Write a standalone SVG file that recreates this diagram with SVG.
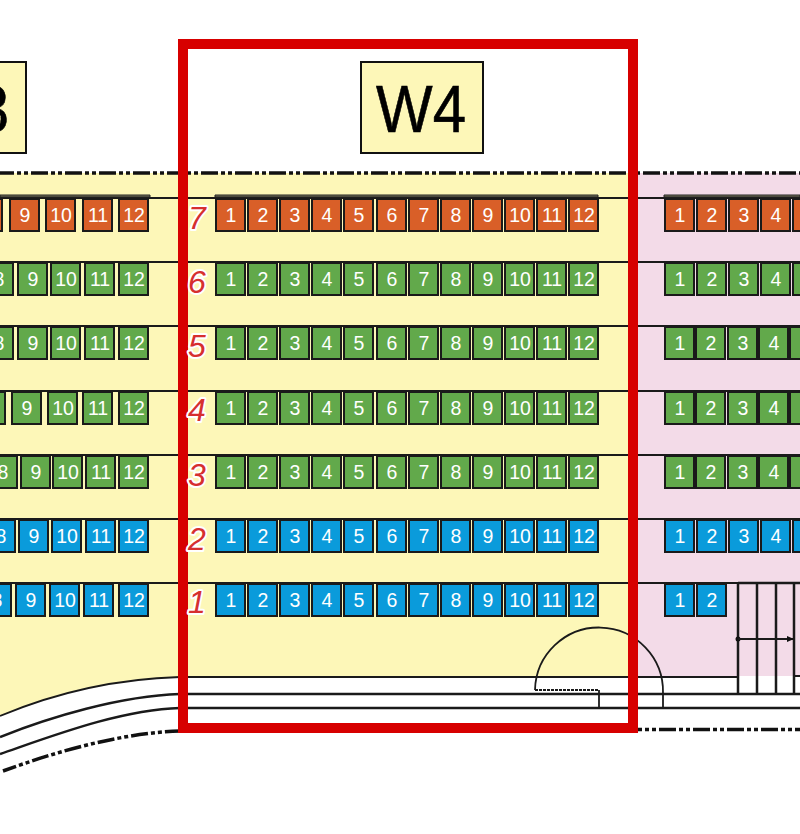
<svg xmlns="http://www.w3.org/2000/svg" width="800" height="834" viewBox="0 0 800 834">
<style>
.c rect{width:29px;height:32px;stroke:#1a1a1a;stroke-width:2}
.c text{font:19.500px "Liberation Sans",Arial,sans-serif;fill:#fff;text-anchor:middle}
.o rect{fill:#d95f28}.g rect{fill:#62a94b}.b rect{fill:#0a9bdb}
.l{fill:none;stroke:#1a1a1a;stroke-width:1.800}
.t{stroke-width:2.500}
.d{fill:none;stroke:#111;stroke-width:3.500;stroke-dasharray:17 3 4 3 4 3;stroke-dashoffset:3}
.e{stroke-dashoffset:13}
.n{font:italic 32px "Liberation Sans",Arial,sans-serif;fill:#d62f2f;stroke:#fff;stroke-width:4;paint-order:stroke;stroke-linejoin:round;text-anchor:middle}
.h rect{fill:#fdf7b8;stroke:#111;stroke-width:2}
.h text{font:66px "Liberation Sans",Arial,sans-serif;fill:#000;stroke:#000;stroke-width:.6;text-anchor:middle}
.bar{fill:#77745a;stroke:#222;stroke-width:1}
</style>
<defs><marker id="ah" markerWidth="8" markerHeight="8" refX="6" refY="3" orient="auto" markerUnits="userSpaceOnUse"><path d="M0 0L7 3L0 6z" fill="#111"/></marker></defs>
<rect width="800" height="834" fill="#fff"/>
<path d="M0 173H635V677H180C110 679 50 695 0 716Z" fill="#fdf7b8"/>
<rect x="633" y="173" width="167" height="503" fill="#f3dbe8"/>
<g id="connectors">
<path class="d" d="M0 173H800"/>
<path class="l" d="M0 198H800M0 262H800M0 326H800M0 391H800M0 455H800M0 519H800M0 583H738"/>
<path class="bar" d="M0 195H150V197H0ZM215 195H598V197H215ZM664 195H800V197H664Z"/>
<path class="l" d="M0 716C50 695 110 679 180 677H738M795 676H800"/>
<path class="l t" d="M0 737C50 717 120 696 180 694H800"/>
<path class="l t" d="M0 754C55 735 120 710 180 708H800"/>
<path class="d" d="M3 771C55 752 120 733 180 731H640"/>
<path class="d e" d="M638 729.500H800"/>
<path class="l" d="M535 690A64 64 0 0 1 663 693V708"/>
<path class="l" stroke-dasharray="3 1" d="M535 690H599"/>
<path class="l" d="M599 690V708"/>
<path class="l t" d="M738 583V693M757 583V693M776 583V693M794 583V693M738 583H800"/>
<circle cx="738" cy="639" r="2.500" fill="#111"/>
<path class="l" stroke-width="1.500" marker-end="url(#ah)" d="M738 639H793"/>
</g>
<g id="w3-label" class="h"><rect x="-100" y="62" width="126" height="91"/><text x="-36" y="132" textLength="90" lengthAdjust="spacingAndGlyphs">W3</text></g>
<g id="w4-label" class="h"><rect x="361" y="62" width="122" height="91"/><text x="421" y="132" textLength="90" lengthAdjust="spacingAndGlyphs">W4</text></g>
<g id="w3-7">
<g class="c o" transform="translate(-27 199)"><rect/></g>
<g class="c o" transform="translate(10 199)"><rect/><text x="15" y="23">9</text></g>
<g class="c o" transform="translate(46 199)"><rect/><text x="15" y="23">10</text></g>
<g class="c o" transform="translate(83 199)"><rect/><text x="15" y="23">11</text></g>
<g class="c o" transform="translate(119 199)"><rect/><text x="15" y="23">12</text></g>
</g>
<g id="w3-6">
<g class="c g" transform="translate(-16 263)"><rect/><text x="15" y="23">8</text></g>
<g class="c g" transform="translate(18 263)"><rect/><text x="15" y="23">9</text></g>
<g class="c g" transform="translate(51 263)"><rect/><text x="15" y="23">10</text></g>
<g class="c g" transform="translate(85 263)"><rect/><text x="15" y="23">11</text></g>
<g class="c g" transform="translate(119 263)"><rect/><text x="15" y="23">12</text></g>
</g>
<g id="w3-5">
<g class="c g" transform="translate(-16 327)"><rect/><text x="15" y="23">8</text></g>
<g class="c g" transform="translate(18 327)"><rect/><text x="15" y="23">9</text></g>
<g class="c g" transform="translate(51 327)"><rect/><text x="15" y="23">10</text></g>
<g class="c g" transform="translate(85 327)"><rect/><text x="15" y="23">11</text></g>
<g class="c g" transform="translate(119 327)"><rect/><text x="15" y="23">12</text></g>
</g>
<g id="w3-4">
<g class="c g" transform="translate(-24 392)"><rect/></g>
<g class="c g" transform="translate(12 392)"><rect/><text x="15" y="23">9</text></g>
<g class="c g" transform="translate(48 392)"><rect/><text x="15" y="23">10</text></g>
<g class="c g" transform="translate(83 392)"><rect/><text x="15" y="23">11</text></g>
<g class="c g" transform="translate(119 392)"><rect/><text x="15" y="23">12</text></g>
</g>
<g id="w3-3">
<g class="c g" transform="translate(-12 456)"><rect/><text x="15" y="23">8</text></g>
<g class="c g" transform="translate(21 456)"><rect/><text x="15" y="23">9</text></g>
<g class="c g" transform="translate(53 456)"><rect/><text x="15" y="23">10</text></g>
<g class="c g" transform="translate(86 456)"><rect/><text x="15" y="23">11</text></g>
<g class="c g" transform="translate(119 456)"><rect/><text x="15" y="23">12</text></g>
</g>
<g id="w3-2">
<g class="c b" transform="translate(-14 520)"><rect/><text x="15" y="23">8</text></g>
<g class="c b" transform="translate(19 520)"><rect/><text x="15" y="23">9</text></g>
<g class="c b" transform="translate(52 520)"><rect/><text x="15" y="23">10</text></g>
<g class="c b" transform="translate(86 520)"><rect/><text x="15" y="23">11</text></g>
<g class="c b" transform="translate(119 520)"><rect/><text x="15" y="23">12</text></g>
</g>
<g id="w3-1">
<g class="c b" transform="translate(-18 584)"><rect/><text x="15" y="23">8</text></g>
<g class="c b" transform="translate(16 584)"><rect/><text x="15" y="23">9</text></g>
<g class="c b" transform="translate(50 584)"><rect/><text x="15" y="23">10</text></g>
<g class="c b" transform="translate(84 584)"><rect/><text x="15" y="23">11</text></g>
<g class="c b" transform="translate(119 584)"><rect/><text x="15" y="23">12</text></g>
</g>
<g id="w4-7">
<g class="c o" transform="translate(216 199)"><rect/><text x="15" y="23">1</text></g>
<g class="c o" transform="translate(248 199)"><rect/><text x="15" y="23">2</text></g>
<g class="c o" transform="translate(280 199)"><rect/><text x="15" y="23">3</text></g>
<g class="c o" transform="translate(312 199)"><rect/><text x="15" y="23">4</text></g>
<g class="c o" transform="translate(344 199)"><rect/><text x="15" y="23">5</text></g>
<g class="c o" transform="translate(377 199)"><rect/><text x="15" y="23">6</text></g>
<g class="c o" transform="translate(409 199)"><rect/><text x="15" y="23">7</text></g>
<g class="c o" transform="translate(441 199)"><rect/><text x="15" y="23">8</text></g>
<g class="c o" transform="translate(473 199)"><rect/><text x="15" y="23">9</text></g>
<g class="c o" transform="translate(505 199)"><rect/><text x="15" y="23">10</text></g>
<g class="c o" transform="translate(537 199)"><rect/><text x="15" y="23">11</text></g>
<g class="c o" transform="translate(569 199)"><rect/><text x="15" y="23">12</text></g>
</g>
<g id="w4-6">
<g class="c g" transform="translate(216 263)"><rect/><text x="15" y="23">1</text></g>
<g class="c g" transform="translate(248 263)"><rect/><text x="15" y="23">2</text></g>
<g class="c g" transform="translate(280 263)"><rect/><text x="15" y="23">3</text></g>
<g class="c g" transform="translate(312 263)"><rect/><text x="15" y="23">4</text></g>
<g class="c g" transform="translate(344 263)"><rect/><text x="15" y="23">5</text></g>
<g class="c g" transform="translate(377 263)"><rect/><text x="15" y="23">6</text></g>
<g class="c g" transform="translate(409 263)"><rect/><text x="15" y="23">7</text></g>
<g class="c g" transform="translate(441 263)"><rect/><text x="15" y="23">8</text></g>
<g class="c g" transform="translate(473 263)"><rect/><text x="15" y="23">9</text></g>
<g class="c g" transform="translate(505 263)"><rect/><text x="15" y="23">10</text></g>
<g class="c g" transform="translate(537 263)"><rect/><text x="15" y="23">11</text></g>
<g class="c g" transform="translate(569 263)"><rect/><text x="15" y="23">12</text></g>
</g>
<g id="w4-5">
<g class="c g" transform="translate(216 327)"><rect/><text x="15" y="23">1</text></g>
<g class="c g" transform="translate(248 327)"><rect/><text x="15" y="23">2</text></g>
<g class="c g" transform="translate(280 327)"><rect/><text x="15" y="23">3</text></g>
<g class="c g" transform="translate(312 327)"><rect/><text x="15" y="23">4</text></g>
<g class="c g" transform="translate(344 327)"><rect/><text x="15" y="23">5</text></g>
<g class="c g" transform="translate(377 327)"><rect/><text x="15" y="23">6</text></g>
<g class="c g" transform="translate(409 327)"><rect/><text x="15" y="23">7</text></g>
<g class="c g" transform="translate(441 327)"><rect/><text x="15" y="23">8</text></g>
<g class="c g" transform="translate(473 327)"><rect/><text x="15" y="23">9</text></g>
<g class="c g" transform="translate(505 327)"><rect/><text x="15" y="23">10</text></g>
<g class="c g" transform="translate(537 327)"><rect/><text x="15" y="23">11</text></g>
<g class="c g" transform="translate(569 327)"><rect/><text x="15" y="23">12</text></g>
</g>
<g id="w4-4">
<g class="c g" transform="translate(216 392)"><rect/><text x="15" y="23">1</text></g>
<g class="c g" transform="translate(248 392)"><rect/><text x="15" y="23">2</text></g>
<g class="c g" transform="translate(280 392)"><rect/><text x="15" y="23">3</text></g>
<g class="c g" transform="translate(312 392)"><rect/><text x="15" y="23">4</text></g>
<g class="c g" transform="translate(344 392)"><rect/><text x="15" y="23">5</text></g>
<g class="c g" transform="translate(377 392)"><rect/><text x="15" y="23">6</text></g>
<g class="c g" transform="translate(409 392)"><rect/><text x="15" y="23">7</text></g>
<g class="c g" transform="translate(441 392)"><rect/><text x="15" y="23">8</text></g>
<g class="c g" transform="translate(473 392)"><rect/><text x="15" y="23">9</text></g>
<g class="c g" transform="translate(505 392)"><rect/><text x="15" y="23">10</text></g>
<g class="c g" transform="translate(537 392)"><rect/><text x="15" y="23">11</text></g>
<g class="c g" transform="translate(569 392)"><rect/><text x="15" y="23">12</text></g>
</g>
<g id="w4-3">
<g class="c g" transform="translate(216 456)"><rect/><text x="15" y="23">1</text></g>
<g class="c g" transform="translate(248 456)"><rect/><text x="15" y="23">2</text></g>
<g class="c g" transform="translate(280 456)"><rect/><text x="15" y="23">3</text></g>
<g class="c g" transform="translate(312 456)"><rect/><text x="15" y="23">4</text></g>
<g class="c g" transform="translate(344 456)"><rect/><text x="15" y="23">5</text></g>
<g class="c g" transform="translate(377 456)"><rect/><text x="15" y="23">6</text></g>
<g class="c g" transform="translate(409 456)"><rect/><text x="15" y="23">7</text></g>
<g class="c g" transform="translate(441 456)"><rect/><text x="15" y="23">8</text></g>
<g class="c g" transform="translate(473 456)"><rect/><text x="15" y="23">9</text></g>
<g class="c g" transform="translate(505 456)"><rect/><text x="15" y="23">10</text></g>
<g class="c g" transform="translate(537 456)"><rect/><text x="15" y="23">11</text></g>
<g class="c g" transform="translate(569 456)"><rect/><text x="15" y="23">12</text></g>
</g>
<g id="w4-2">
<g class="c b" transform="translate(216 520)"><rect/><text x="15" y="23">1</text></g>
<g class="c b" transform="translate(248 520)"><rect/><text x="15" y="23">2</text></g>
<g class="c b" transform="translate(280 520)"><rect/><text x="15" y="23">3</text></g>
<g class="c b" transform="translate(312 520)"><rect/><text x="15" y="23">4</text></g>
<g class="c b" transform="translate(344 520)"><rect/><text x="15" y="23">5</text></g>
<g class="c b" transform="translate(377 520)"><rect/><text x="15" y="23">6</text></g>
<g class="c b" transform="translate(409 520)"><rect/><text x="15" y="23">7</text></g>
<g class="c b" transform="translate(441 520)"><rect/><text x="15" y="23">8</text></g>
<g class="c b" transform="translate(473 520)"><rect/><text x="15" y="23">9</text></g>
<g class="c b" transform="translate(505 520)"><rect/><text x="15" y="23">10</text></g>
<g class="c b" transform="translate(537 520)"><rect/><text x="15" y="23">11</text></g>
<g class="c b" transform="translate(569 520)"><rect/><text x="15" y="23">12</text></g>
</g>
<g id="w4-1">
<g class="c b" transform="translate(216 584)"><rect/><text x="15" y="23">1</text></g>
<g class="c b" transform="translate(248 584)"><rect/><text x="15" y="23">2</text></g>
<g class="c b" transform="translate(280 584)"><rect/><text x="15" y="23">3</text></g>
<g class="c b" transform="translate(312 584)"><rect/><text x="15" y="23">4</text></g>
<g class="c b" transform="translate(344 584)"><rect/><text x="15" y="23">5</text></g>
<g class="c b" transform="translate(377 584)"><rect/><text x="15" y="23">6</text></g>
<g class="c b" transform="translate(409 584)"><rect/><text x="15" y="23">7</text></g>
<g class="c b" transform="translate(441 584)"><rect/><text x="15" y="23">8</text></g>
<g class="c b" transform="translate(473 584)"><rect/><text x="15" y="23">9</text></g>
<g class="c b" transform="translate(505 584)"><rect/><text x="15" y="23">10</text></g>
<g class="c b" transform="translate(537 584)"><rect/><text x="15" y="23">11</text></g>
<g class="c b" transform="translate(569 584)"><rect/><text x="15" y="23">12</text></g>
</g>
<g id="w5-7">
<g class="c o" transform="translate(665 199)"><rect/><text x="15" y="23">1</text></g>
<g class="c o" transform="translate(697 199)"><rect/><text x="15" y="23">2</text></g>
<g class="c o" transform="translate(729 199)"><rect/><text x="15" y="23">3</text></g>
<g class="c o" transform="translate(761 199)"><rect/><text x="15" y="23">4</text></g>
<g class="c o" transform="translate(793 199)"><rect/></g>
</g>
<g id="w5-6">
<g class="c g" transform="translate(665 263)"><rect/><text x="15" y="23">1</text></g>
<g class="c g" transform="translate(697 263)"><rect/><text x="15" y="23">2</text></g>
<g class="c g" transform="translate(729 263)"><rect/><text x="15" y="23">3</text></g>
<g class="c g" transform="translate(761 263)"><rect/><text x="15" y="23">4</text></g>
<g class="c g" transform="translate(793 263)"><rect/></g>
</g>
<g id="w5-5">
<g class="c g" transform="translate(665 327)"><rect/><text x="15" y="23">1</text></g>
<g class="c g" transform="translate(696 327)"><rect/><text x="15" y="23">2</text></g>
<g class="c g" transform="translate(728 327)"><rect/><text x="15" y="23">3</text></g>
<g class="c g" transform="translate(759 327)"><rect/><text x="15" y="23">4</text></g>
<g class="c g" transform="translate(790 327)"><rect/></g>
</g>
<g id="w5-4">
<g class="c g" transform="translate(665 392)"><rect/><text x="15" y="23">1</text></g>
<g class="c g" transform="translate(696 392)"><rect/><text x="15" y="23">2</text></g>
<g class="c g" transform="translate(728 392)"><rect/><text x="15" y="23">3</text></g>
<g class="c g" transform="translate(759 392)"><rect/><text x="15" y="23">4</text></g>
<g class="c g" transform="translate(790 392)"><rect/></g>
</g>
<g id="w5-3">
<g class="c g" transform="translate(665 456)"><rect/><text x="15" y="23">1</text></g>
<g class="c g" transform="translate(696 456)"><rect/><text x="15" y="23">2</text></g>
<g class="c g" transform="translate(728 456)"><rect/><text x="15" y="23">3</text></g>
<g class="c g" transform="translate(759 456)"><rect/><text x="15" y="23">4</text></g>
<g class="c g" transform="translate(790 456)"><rect/></g>
</g>
<g id="w5-2">
<g class="c b" transform="translate(665 520)"><rect/><text x="15" y="23">1</text></g>
<g class="c b" transform="translate(697 520)"><rect/><text x="15" y="23">2</text></g>
<g class="c b" transform="translate(729 520)"><rect/><text x="15" y="23">3</text></g>
<g class="c b" transform="translate(761 520)"><rect/><text x="15" y="23">4</text></g>
<g class="c b" transform="translate(793 520)"><rect/></g>
</g>
<g id="w5-1">
<g class="c b" transform="translate(665 584)"><rect/><text x="15" y="23">1</text></g>
<g class="c b" transform="translate(697 584)"><rect/><text x="15" y="23">2</text></g>
</g>
<rect id="highlight" x="183" y="44" width="450" height="684" fill="none" stroke="#d70000" stroke-width="10"/>
<g id="row-numbers">
<text class="n" x="197" y="229">7</text>
<text class="n" x="197" y="293">6</text>
<text class="n" x="197" y="357">5</text>
<text class="n" x="197" y="421">4</text>
<text class="n" x="197" y="486">3</text>
<text class="n" x="197" y="550">2</text>
<text class="n" x="197" y="613">1</text>
</g>
</svg>
